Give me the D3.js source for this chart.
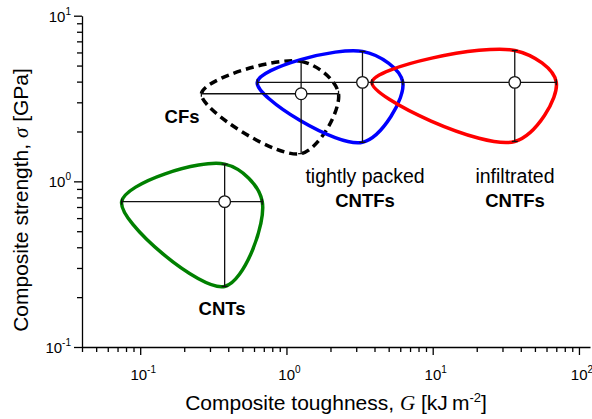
<!DOCTYPE html>
<html>
<head>
<meta charset="utf-8">
<script src="https://cdn.jsdelivr.net/npm/d3@7"></script>
<style>
  body { margin: 0; background: #fff; }
  text { font-family: Arial, "Liberation Sans", sans-serif; fill: #000; }
</style>
</head>
<body>
<svg id="chart" width="592" height="419"></svg>
<script>
// material groups, drawn in this order
var groups = ['CFs', 'tightly packed CNTFs', 'infiltrated CNTFs', 'CNTs'];
var colors = ['#000000', '#0000ff', '#ff0000', '#008000'];
var dashed = [true, false, false, false];

// toughness G [kJ m^-2]: centre, low end, high end
var gCenter = [1.26, 3.31, 36.4, 0.378];
var gLow = [0.262, 0.631, 3.84, 0.0747];
var gHigh = [2.27, 6.25, 70, 0.683];

// strength sigma [GPa]: centre, low end, high end
var sCenter = [3.38, 3.96, 3.96, 0.754];
var sLow = [1.47, 1.72, 1.74, 0.232];
var sHigh = [5.30, 6.09, 6.17, 1.27];

var xMajor = [0.1, 1, 10, 100];
var xMajorExp = ['-1', '0', '1', '2'];
var yMajor = [0.1, 1, 10];
var yMajorExp = ['-1', '0', '1'];

var svg = d3.select('#chart');

var x = d3.scaleLog().domain([0.04, 119]).range([82, 590]);
var y = d3.scaleLog().domain([0.1, 10]).range([347, 15.7]);

function minors(lo, hi) {
    var out = [];
    for (var e = Math.floor(Math.log10(lo)); e <= Math.ceil(Math.log10(hi)); e++) {
        for (var m = 1; m < 10; m++) {
            var v = m * Math.pow(10, e);
            if (v >= lo * 0.999 && v <= hi * 1.001) out.push(v);
        }
    }
    return out;
}

// x axis
var xAxis = svg.append('g')
    .attr('transform', 'translate(0,' + y(0.1) + ')')
    .call(d3.axisBottom(x).tickValues(minors(0.04, 100)).tickFormat('').tickSizeOuter(0));
xAxis.selectAll('.tick line')
    .attr('y2', function(d) {
        return xMajor.indexOf(d) >= 0 ? 8 : 5;
    });

// y axis
var yAxis = svg.append('g')
    .attr('transform', 'translate(' + x(0.04) + ',0)')
    .call(d3.axisLeft(y).tickValues(minors(0.1, 10)).tickFormat('').tickSizeOuter(0));
yAxis.selectAll('.tick line')
    .attr('x2', function(d) {
        return yMajor.indexOf(d) >= 0 ? -8 : -5;
    });

svg.selectAll('.domain, .tick line').attr('stroke', '#000').attr('stroke-width', 1.3);

// tick labels with superscripts
var xl = svg.selectAll('.xlab')
    .data(xMajor)
    .enter()
    .append('text')
    .attr('class', 'xlab')
    .attr('x', function(d) { return x(d) + 3; })
    .attr('y', 380)
    .attr('text-anchor', 'middle')
    .style('font-size', '15px')
    .text('10');
xl.append('tspan')
    .attr('dy', -7)
    .style('font-size', '10px')
    .text(function(d, i) { return xMajorExp[i]; });

var yl = svg.selectAll('.ylab')
    .data(yMajor)
    .enter()
    .append('text')
    .attr('class', 'ylab')
    .attr('x', 71)
    .attr('y', function(d) { return y(d) + 6; })
    .attr('text-anchor', 'end')
    .style('font-size', '15px')
    .text('10');
yl.append('tspan')
    .attr('dy', -7)
    .style('font-size', '10px')
    .text(function(d, i) { return yMajorExp[i]; });

// axis titles
var xt = svg.append('text')
    .attr('x', 336)
    .attr('y', 410)
    .attr('text-anchor', 'middle')
    .style('font-size', '21px');
xt.append('tspan').text('Composite toughness, ');
xt.append('tspan').style('font-family', '"Liberation Serif", "Times New Roman", serif').style('font-style', 'italic').text('G');
xt.append('tspan').text(' [kJ\u2009m');
xt.append('tspan').attr('dy', -8).style('font-size', '13px').text('-2');
xt.append('tspan').attr('dy', 8).text(']');

var yt = svg.append('text')
    .attr('transform', 'translate(28,' + 200 + ') rotate(-90)')
    .attr('text-anchor', 'middle')
    .style('font-size', '21px');
yt.append('tspan').text('Composite strength, ');
yt.append('tspan').style('font-family', '"Liberation Serif", "Times New Roman", serif').style('font-style', 'italic').text('\u03c3');
yt.append('tspan').text(' [GPa]');

// closed envelopes through the four bar ends
var envelope = d3.line().curve(d3.curveCatmullRomClosed.alpha(0.5));

groups.forEach(function(name, i) {
    var pts = [
        [x(gLow[i]), y(sCenter[i])],
        [x(gCenter[i]), y(sHigh[i])],
        [x(gHigh[i]), y(sCenter[i])],
        [x(gCenter[i]), y(sLow[i])]
    ];
    svg.append('path')
        .attr('d', envelope(pts))
        .attr('fill', 'none')
        .attr('stroke', colors[i])
        .attr('stroke-width', 3.5)
        .attr('stroke-dasharray', dashed[i] ? '8,5' : null);
});

// error bars and centre points
groups.forEach(function(name, i) {
    var g = svg.append('g').attr('stroke', '#111').attr('stroke-width', 1.3);
    var cx = x(gCenter[i]), cy = y(sCenter[i]);
    g.append('line').attr('x1', x(gLow[i])).attr('x2', x(gHigh[i])).attr('y1', cy).attr('y2', cy);
    g.append('line').attr('x1', cx).attr('x2', cx).attr('y1', y(sLow[i])).attr('y2', y(sHigh[i]));
    [gLow[i], gHigh[i]].forEach(function(v) {
        g.append('line').attr('x1', x(v)).attr('x2', x(v)).attr('y1', cy - 3).attr('y2', cy + 3);
    });
    [sLow[i], sHigh[i]].forEach(function(v) {
        g.append('line').attr('x1', cx - 3).attr('x2', cx + 3).attr('y1', y(v)).attr('y2', y(v));
    });
    g.append('circle')
        .attr('cx', cx)
        .attr('cy', cy)
        .attr('r', 5.8)
        .attr('fill', '#fff');
});

// group labels
var labels = [
    { lines: ['CFs'], bold: [true], x: 182, y: 123 },
    { lines: ['tightly packed', 'CNTFs'], bold: [false, true], x: 365, y: 182.5 },
    { lines: ['infiltrated', 'CNTFs'], bold: [false, true], x: 515, y: 182.5 },
    { lines: ['CNTs'], bold: [true], x: 222, y: 315 }
];
labels.forEach(function(l) {
    l.lines.forEach(function(t, k) {
        svg.append('text')
            .attr('x', l.x)
            .attr('y', l.y + k * 24)
            .attr('text-anchor', 'middle')
            .style('font-size', l.bold[k] ? '18.5px' : '19.5px')
            .style('font-weight', l.bold[k] ? 'bold' : 'normal')
            .text(t);
    });
});
</script>
</body>
</html>
